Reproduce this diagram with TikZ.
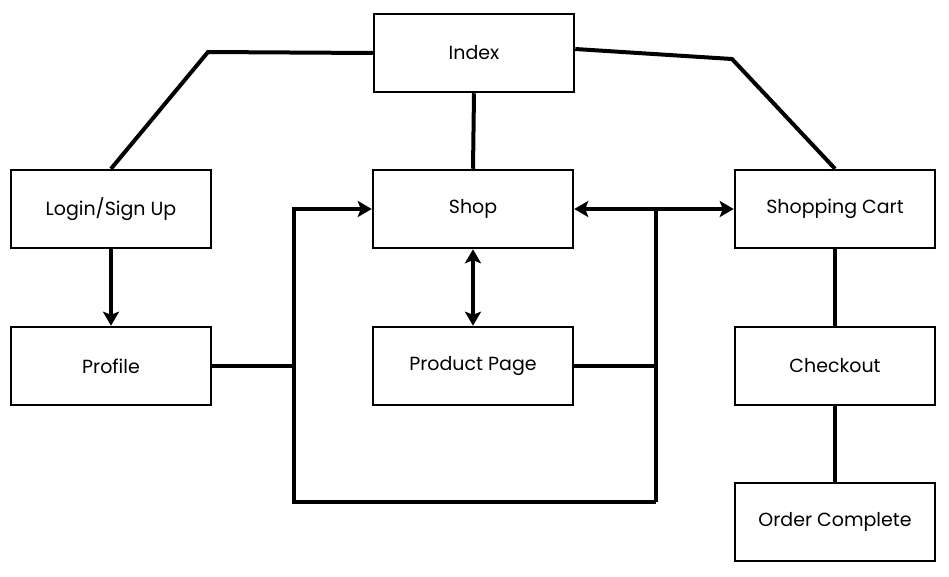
\documentclass[tikz,border=0pt]{standalone}
\usepackage{fontspec}
\setmainfont{Poppins}
\usetikzlibrary{arrows.meta}
\begin{document}
\begin{tikzpicture}[x=1pt,y=-1pt,
  box/.style={draw=black,line width=2.5pt,minimum width=200pt,minimum height=78pt,inner sep=0pt,font=\fontsize{19}{22}\selectfont},
  conn/.style={line width=4pt,draw=black},
  tip/.style={-{Stealth[length=14pt,width=16pt,inset=3pt]}}]
\useasboundingbox[fill=white] (0,0) rectangle (949,576);
\node[box] (index) at (474,53) {Index};
\node[box] (login) at (111,209) {Login/Sign Up};
\node[box] (shop) at (473,209) {Shop};
\node[box] (cart) at (835,209) {Shopping Cart};
\node[box] (profile) at (111,366) {Profile};
\node[box] (product) at (473,366) {Product Page};
\node[box] (checkout) at (835,366) {Checkout};
\node[box] (order) at (835,522) {Order Complete};
\coordinate (tl) at (294,209);
\coordinate (bl) at (294,502);
\coordinate (br) at (656,502);
\coordinate (tr) at (656,209);
\coordinate (ik1) at (208,52);
\coordinate (ik2) at (732,59);
\draw[conn] (index.west) -- (ik1) -- (login.north);
\draw[conn] ([yshift=4pt]index.east) -- (ik2) -- (cart.north);
\draw[conn] (index.south) -- (shop.north);
\draw[conn,tip] (login.south) -- (profile.north);
\draw[conn] (profile.east) -- (profile.east -| tl);
\draw[conn,tip] (br) -- (bl) -- (tl) -- (shop.west);
\draw[conn,tip] (br) -- (tr) -- (shop.east);
\draw[conn,tip] (tr) -- (cart.west);
\draw[conn] (product.east) -- (product.east -| br);
\draw[conn,{Stealth[length=14pt,width=16pt,inset=3pt]}-{Stealth[length=14pt,width=16pt,inset=3pt]}] (shop.south) -- (product.north);
\draw[conn] (cart.south) -- (checkout.north);
\draw[conn] (checkout.south) -- (order.north);
\end{tikzpicture}
\end{document}
